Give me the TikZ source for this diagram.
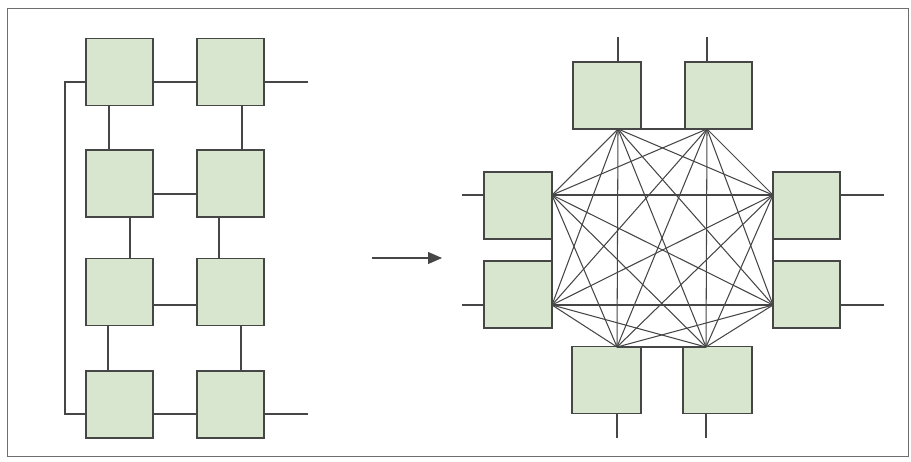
\documentclass[tikz,border=0pt]{standalone}
\usetikzlibrary{arrows.meta}
\definecolor{boxfill}{RGB}{216,230,208}
\definecolor{linegray}{RGB}{70,70,70}
\definecolor{framegray}{RGB}{110,110,110}
\begin{document}
\begin{tikzpicture}[x=1pt,y=-1pt,
  blk/.style={draw=linegray,line width=1.2pt,fill=boxfill,minimum width=67pt,minimum height=67pt,inner sep=0pt,outer sep=0pt},
  wire/.style={draw=linegray,line width=1.1pt},
  mesh/.style={draw=linegray,line width=1.05pt},
  frm/.style={draw=framegray,line width=0.9pt}]
\useasboundingbox (0,0) rectangle (911,461);
\draw[frm] (7,8) rectangle (908,456);

% ---------- left: ring / mesh ----------
\node[blk] (l11) at (119.5,72) {};
\node[blk] (l12) at (230.5,72) {};
\node[blk] (l21) at (119.5,183.5) {};
\node[blk] (l22) at (230.5,183.5) {};
\node[blk] (l31) at (119.5,292) {};
\node[blk] (l32) at (230.5,292) {};
\node[blk] (l41) at (119.5,404.5) {};
\node[blk] (l42) at (230.5,404.5) {};
\coordinate (bus) at (65,250);
\coordinate (out1) at (308,82);
\coordinate (out4) at (308,414);

\draw[wire] ([yshift=-10pt]l11.east) -- ([yshift=-10pt]l12.west);
\draw[wire] ([yshift=-10pt]l12.east) -- (out1);
\draw[wire] ([yshift=-10.5pt]l21.east) -- ([yshift=-10.5pt]l22.west);
\draw[wire] ([yshift=-13pt]l31.east) -- ([yshift=-13pt]l32.west);
\draw[wire] ([yshift=-9.5pt]l41.east) -- ([yshift=-9.5pt]l42.west);
\draw[wire] ([yshift=-9.5pt]l42.east) -- (out4);
\draw[wire] ([yshift=-10pt]l11.west) -| (bus) |- ([yshift=-9.5pt]l41.west);

\draw[wire] ([xshift=-10.5pt]l11.south) -- ([xshift=-10.5pt]l21.north);
\draw[wire] ([xshift=11.5pt]l12.south) -- ([xshift=11.5pt]l22.north);
\draw[wire] ([xshift=10.5pt]l21.south) -- ([xshift=10.5pt]l31.north);
\draw[wire] ([xshift=-11.5pt]l22.south) -- ([xshift=-11.5pt]l32.north);
\draw[wire] ([xshift=-11.5pt]l31.south) -- ([xshift=-11.5pt]l41.north);
\draw[wire] ([xshift=10.5pt]l32.south) -- ([xshift=10.5pt]l42.north);

% ---------- arrow ----------
\coordinate (a1) at (372,258);
\coordinate (a2) at (442,258);
\draw[wire,-{Triangle[length=14pt,width=12pt]}] (a1) -- (a2);

% ---------- right: fully connected ----------
\node[blk,minimum width=68pt] (A) at (607,95.5) {};
\node[blk] (B) at (718.5,95.5) {};
\node[blk,minimum width=68pt] (C) at (518,205.5) {};
\node[blk,minimum width=68pt] (D) at (518,294.5) {};
\node[blk] (E) at (806.5,205.5) {};
\node[blk] (F) at (806.5,294.5) {};
\node[blk,minimum width=69pt] (G) at (606.5,380) {};
\node[blk,minimum width=69pt] (H) at (717.5,380) {};

\coordinate (hA) at (618,129);
\coordinate (hB) at (707,129);
\coordinate (hC) at (552,195);
\coordinate (hD) at (552,305);
\coordinate (hE) at (773,195);
\coordinate (hF) at (773,305);
\coordinate (hG) at (617,347);
\coordinate (hH) at (706,347);

\coordinate (sA) at (618,37);
\coordinate (sB) at (707,37);
\coordinate (sC) at (462,195);
\coordinate (sD) at (462,305);
\coordinate (sE) at (884,195);
\coordinate (sF) at (884,305);
\coordinate (sG) at (617,438);
\coordinate (sH) at (706,438);

\draw[wire] (sA) -- (A.north -| sA);
\draw[wire] (sB) -- (B.north -| sB);
\draw[wire] (sC) -- (C.west |- sC);
\draw[wire] (sD) -- (D.west |- sD);
\draw[wire] (sE) -- (E.east |- sE);
\draw[wire] (sF) -- (F.east |- sF);
\draw[wire] (sG) -- (G.south -| sG);
\draw[wire] (sH) -- (H.south -| sH);

\foreach \p/\q in {hA/hB,hA/hC,hA/hD,hA/hE,hA/hF,hA/hG,hA/hH,
                   hB/hC,hB/hD,hB/hE,hB/hF,hB/hG,hB/hH,
                   hC/hD,hC/hE,hC/hF,hC/hG,hC/hH,
                   hD/hE,hD/hF,hD/hG,hD/hH,
                   hE/hF,hE/hG,hE/hH,
                   hF/hG,hF/hH,
                   hG/hH}
  \draw[mesh] (\p) -- (\q);
\end{tikzpicture}
\end{document}
